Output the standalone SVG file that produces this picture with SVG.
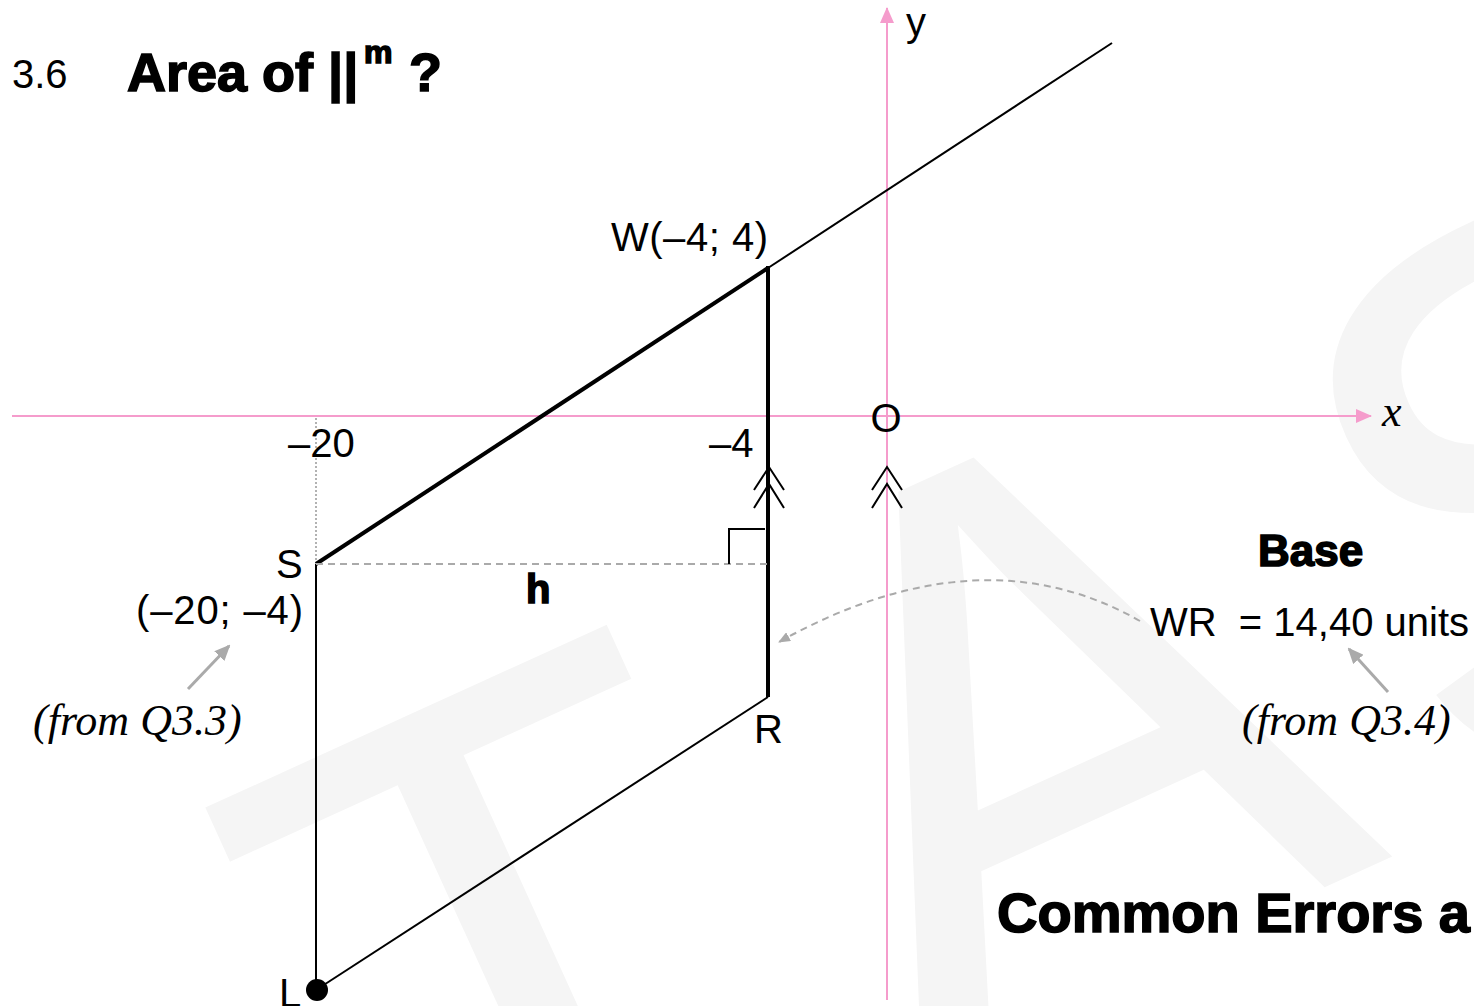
<svg xmlns="http://www.w3.org/2000/svg" width="1474" height="1006" viewBox="0 0 1474 1006">
<defs>
<style>
.lbl{font-family:"Liberation Sans",Arial,sans-serif;font-size:40px;fill:#000}
.ital{font-family:"Liberation Serif","Times New Roman",serif;font-style:italic;font-size:44px;fill:#000}
.heavy{font-family:"Liberation Sans",Arial,sans-serif;font-weight:bold;fill:#000;stroke:#000;stroke-width:1.6}
.axis{stroke:#f59ccc;stroke-width:2;fill:none}
.thick{stroke:#000;stroke-width:4;fill:none}
.thin{stroke:#000;stroke-width:2;fill:none}
.grey{stroke:#aaa;stroke-width:3;fill:none}
.wm{font-family:"Liberation Sans",Arial,sans-serif;font-size:780px;fill:#f5f5f5}
</style>
<marker id="axh" markerWidth="16" markerHeight="14" refX="15" refY="7" orient="auto" markerUnits="userSpaceOnUse">
<path d="M0,0 L16,7 L0,14 Z" fill="#f59ccc"/>
</marker>
<marker id="gh" markerWidth="16" markerHeight="14" refX="14" refY="7" orient="auto" markerUnits="userSpaceOnUse">
<path d="M0,0 L16,7 L0,14 Z" fill="#aaa"/>
</marker>
<marker id="dh" markerWidth="12" markerHeight="10" refX="11" refY="5" orient="auto" markerUnits="userSpaceOnUse">
<path d="M0,0 L12,5 L0,10 Z" fill="#aaa"/>
</marker>
</defs>
<rect width="1474" height="1006" fill="#fff"/>
<g id="watermark">
<text class="wm" x="185" y="1342" transform="rotate(-24.5 209 800)">T<tspan dx="140">A</tspan><tspan dx="70">S</tspan></text>
</g>
<g id="axes">
<line class="axis" x1="12" y1="416" x2="1371" y2="416" marker-end="url(#axh)"/>
<line class="axis" x1="887" y1="1000" x2="887" y2="8" marker-end="url(#axh)"/>
<text class="ital" x="1382" y="426" font-size="40">x</text>
<text class="lbl" x="906" y="36" font-size="38">y</text>
<text class="lbl" x="886" y="432" text-anchor="middle">O</text>
</g>
<g id="connectors">
<line class="thin" x1="1112" y1="43" x2="768" y2="268" stroke-width="1.8"/>
<line class="thick" x1="768" y1="268" x2="316" y2="564"/>
<line class="thick" x1="768" y1="266" x2="768" y2="697"/>
<line class="thin" x1="316" y1="564" x2="316" y2="990"/>
<line class="thin" x1="768" y1="697" x2="316" y2="990"/>
<line x1="316" y1="418" x2="316" y2="562" stroke="#999" stroke-width="1.5" stroke-dasharray="2,2"/>
<line x1="316" y1="564" x2="768" y2="564" stroke="#aaa" stroke-width="2" stroke-dasharray="7,5"/>
<polyline class="thin" points="729,564 729,529 765,529"/>
<polyline class="thin" points="754,490 769,467 784,490"/>
<polyline class="thin" points="754,508 769,484 784,508"/>
<polyline class="thin" points="872,490 887,467 902,490"/>
<polyline class="thin" points="872,508 887,484 902,508"/>
<path d="M1140,621 Q980,530 779,642" stroke="#aaa" stroke-width="2" stroke-dasharray="7,5" fill="none" marker-end="url(#dh)"/>
<line class="grey" x1="188" y1="689" x2="229" y2="646" marker-end="url(#gh)"/>
<line class="grey" x1="1388" y1="692" x2="1349" y2="649" marker-end="url(#gh)"/>
</g>
<g id="title">
<text class="lbl" x="12" y="88" font-size="44">3.6</text>
<text class="heavy" x="127" y="91" font-size="54">Area of ||</text>
<text class="heavy" x="364" y="63" font-size="32" stroke-width="1">m</text>
<text class="heavy" x="409" y="91" font-size="54">?</text>
</g>
<g id="node-W"><text class="lbl" x="611" y="251" font-size="41" textLength="157">W(–4; 4)</text></g>
<g id="tick-20"><text class="lbl" x="288" y="457" font-size="41">–20</text></g>
<g id="tick-4"><text class="lbl" x="709" y="457" font-size="41">–4</text></g>
<g id="node-S">
<text class="lbl" x="276" y="578">S</text>
<text class="lbl" x="136" y="624" font-size="41" textLength="167">(–20; –4)</text>
<text class="ital" x="33" y="735">(from Q3.3)</text>
</g>
<g id="label-h"><text class="heavy" x="526" y="603" font-size="40" stroke-width="0.8">h</text></g>
<g id="node-R"><text class="lbl" x="754" y="743">R</text></g>
<g id="node-L">
<circle cx="317" cy="990" r="11" fill="#000"/>
<text class="lbl" x="279" y="1007">L</text>
</g>
<g id="base">
<text class="heavy" x="1258" y="566" font-size="44">Base</text>
<text class="lbl" x="1150" y="636" xml:space="preserve">WR  = 14,40 units</text>
<text class="ital" x="1242" y="735">(from Q3.4)</text>
</g>
<g id="footer"><text class="heavy" x="997" y="932" font-size="56">Common Errors a</text></g>
</svg>
